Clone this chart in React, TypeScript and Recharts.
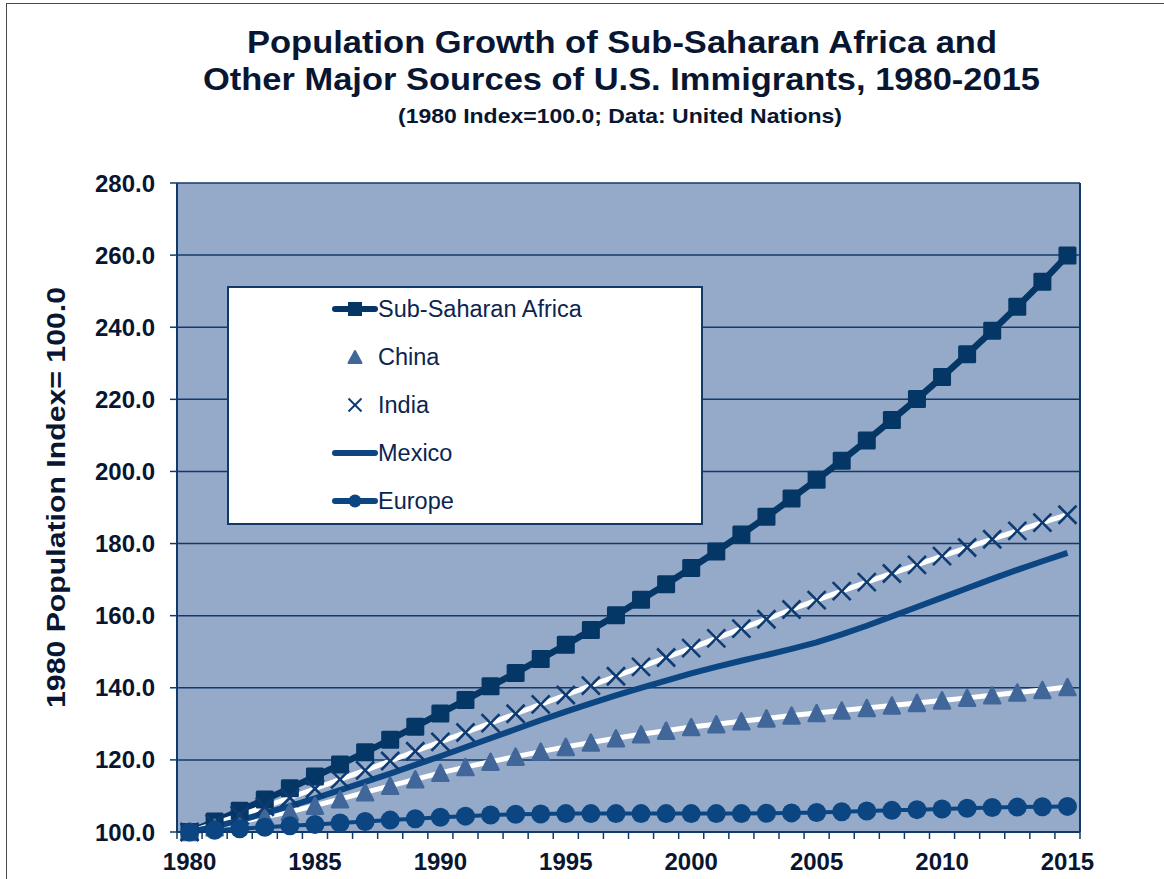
import React from 'react';
import { ComposedChart, Line, XAxis, YAxis, CartesianGrid, Legend } from 'recharts';

const years = [
  '1980', '1981', '1982', '1983', '1984', '1985', '1986', '1987', '1988', '1989',
  '1990', '1991', '1992', '1993', '1994', '1995', '1996', '1997', '1998', '1999',
  '2000', '2001', '2002', '2003', '2004', '2005', '2006', '2007', '2008', '2009',
  '2010', '2011', '2012', '2013', '2014', '2015',
];

const subSaharanAfrica = [
  100.0, 102.9, 105.9, 109.0, 112.1, 115.4, 118.7, 122.1, 125.6, 129.2,
  132.9, 136.6, 140.4, 144.1, 148.0, 151.9, 156.0, 160.1, 164.4, 168.7,
  173.2, 177.8, 182.5, 187.4, 192.5, 197.7, 203.0, 208.6, 214.3, 220.1,
  226.2, 232.5, 239.0, 245.7, 252.6, 259.9,
];

const china = [
  100.0, 101.3, 102.8, 104.2, 105.6, 107.3, 109.1, 111.0, 112.8, 114.6,
  116.4, 118.0, 119.5, 120.9, 122.3, 123.6, 124.8, 126.0, 127.1, 128.1,
  129.1, 129.9, 130.7, 131.5, 132.3, 133.0, 133.7, 134.4, 135.1, 135.8,
  136.5, 137.2, 137.9, 138.7, 139.4, 140.2,
];

const india = [
  100.0, 102.3, 104.6, 107.0, 109.5, 112.0, 114.6, 117.1, 119.7, 122.4,
  125.0, 127.6, 130.2, 132.8, 135.4, 138.0, 140.6, 143.2, 145.8, 148.4,
  151.0, 153.7, 156.4, 159.0, 161.7, 164.3, 166.8, 169.3, 171.7, 174.1,
  176.5, 178.9, 181.2, 183.5, 185.8, 188.0,
];

const mexico = [
  100.0, 101.5, 103.2, 105.2, 107.2, 109.3, 111.6, 113.9, 116.2, 118.6,
  121.0, 123.5, 126.0, 128.5, 131.0, 133.4, 135.7, 137.9, 140.0, 142.0,
  144.0, 145.8, 147.5, 149.1, 150.8, 152.6, 154.8, 157.2, 159.8, 162.4,
  165.0, 167.6, 170.2, 172.7, 175.1, 177.4,
];

const europe = [
  100.0, 100.5, 100.9, 101.3, 101.7, 102.1, 102.5, 102.9, 103.3, 103.7,
  104.1, 104.4, 104.7, 104.9, 105.0, 105.1, 105.1, 105.1, 105.1, 105.1,
  105.1, 105.1, 105.1, 105.2, 105.3, 105.4, 105.6, 105.8, 106.0, 106.2,
  106.4, 106.6, 106.8, 106.9, 107.0, 107.1,
];

const yTicks = [100, 120, 140, 160, 180, 200, 220, 240, 260, 280];
const seriesNames = ['Sub-Saharan Africa', 'China', 'India', 'Mexico', 'Europe'];

const titleLine1 = 'Population Growth of Sub-Saharan Africa and';
const titleLine2 = 'Other Major Sources of U.S. Immigrants, 1980-2015';
const subtitle = '(1980 Index=100.0; Data: United Nations)';
const yAxisTitle = '1980 Population Index= 100.0';

const data = years.map((year, i) => ({
  year,
  ssa: subSaharanAfrica[i],
  china: china[i],
  india: india[i],
  mexico: mexico[i],
  europe: europe[i],
}));

const FONT = 'Arial, "Liberation Sans", Helvetica, sans-serif';
const TEXT = '#081631';
const AXIS = '#123A69';
const PLOT_BG = '#95A9C9';
const SSA = '#053766';
const CHINA = '#41679A';
const INDIA_X = '#0D3B72';
const MEX = '#0B4682';
const EUR = '#0B4682';

const SquareDot = (props: any) => {
  const { cx, cy, index } = props;
  if (cx == null || cy == null) return <g key={`s-${index}`} />;
  const s = 18;
  return <rect key={`s-${index}`} x={cx - s / 2} y={cy - s / 2} width={s} height={s} fill={SSA} rx={1.5} />;
};

const TriangleDot = (props: any) => {
  const { cx, cy, index } = props;
  if (cx == null || cy == null) return <g key={`t-${index}`} />;
  const w = 16;
  const h = 16;
  const d = `M${cx},${cy - h / 2} L${cx + w / 2},${cy + h / 2} L${cx - w / 2},${cy + h / 2} Z`;
  return <path key={`t-${index}`} d={d} fill={CHINA} stroke={CHINA} strokeWidth={2.5} strokeLinejoin="round" />;
};

const CrossDot = (props: any) => {
  const { cx, cy, index } = props;
  if (cx == null || cy == null) return <g key={`x-${index}`} />;
  const r = 9;
  return (
    <g key={`x-${index}`}>
      <line x1={cx - r} y1={cy - r} x2={cx + r} y2={cy + r} stroke={INDIA_X} strokeWidth={2.6} />
      <line x1={cx - r} y1={cy + r} x2={cx + r} y2={cy - r} stroke={INDIA_X} strokeWidth={2.6} />
    </g>
  );
};

const CircleDot = (props: any) => {
  const { cx, cy, index } = props;
  if (cx == null || cy == null) return <g key={`c-${index}`} />;
  return <circle key={`c-${index}`} cx={cx} cy={cy} r={9.5} fill={EUR} />;
};

const XTick = (props: any) => {
  const { x, y, payload } = props;
  const off = payload && payload.offset ? payload.offset : 12.54;
  const value = String(payload.value);
  const isLast = value === years[years.length - 1];
  const showLabel = Number(value) % 5 === 0;
  return (
    <g>
      <line x1={x - off} x2={x - off} y1={y} y2={y + 7} stroke={AXIS} strokeWidth={1.5} />
      {isLast && <line x1={x + off} x2={x + off} y1={y} y2={y + 7} stroke={AXIS} strokeWidth={1.5} />}
      {showLabel && (
        <text x={x} y={y + 38} textAnchor="middle" fontFamily={FONT} fontWeight="bold" fontSize={24} fill={TEXT}>
          {value}
        </text>
      )}
    </g>
  );
};

const LegendIcon = ({ idx, cx, cy }: { idx: number; cx: number; cy: number }) => {
  if (idx === 0) {
    return (
      <g>
        <line x1={cx - 20} x2={cx + 20} y1={cy} y2={cy} stroke={SSA} strokeWidth={6} strokeLinecap="round" />
        <rect x={cx - 7} y={cy - 7} width={14} height={14} fill={SSA} />
      </g>
    );
  }
  if (idx === 1) {
    const d = `M${cx},${cy - 6} L${cx + 6.5},${cy + 6} L${cx - 6.5},${cy + 6} Z`;
    return <path d={d} fill={CHINA} stroke={CHINA} strokeWidth={2} strokeLinejoin="round" />;
  }
  if (idx === 2) {
    const r = 6.5;
    return (
      <g>
        <line x1={cx - r} y1={cy - r} x2={cx + r} y2={cy + r} stroke={INDIA_X} strokeWidth={2} />
        <line x1={cx - r} y1={cy + r} x2={cx + r} y2={cy - r} stroke={INDIA_X} strokeWidth={2} />
      </g>
    );
  }
  if (idx === 3) {
    return <line x1={cx - 20} x2={cx + 20} y1={cy} y2={cy} stroke={MEX} strokeWidth={6} strokeLinecap="round" />;
  }
  return (
    <g>
      <line x1={cx - 20} x2={cx + 20} y1={cy} y2={cy} stroke={EUR} strokeWidth={6} strokeLinecap="round" />
      <circle cx={cx} cy={cy} r={6.5} fill={EUR} />
    </g>
  );
};

const renderLegend = () => (
  <svg width={476} height={239} style={{ display: 'block' }}>
    <rect x={1} y={1} width={474} height={237} fill="#ffffff" stroke={AXIS} strokeWidth={2} />
    {seriesNames.map((name, i) => {
      const cy = 23 + i * 48;
      return (
        <g key={name}>
          <LegendIcon idx={i} cx={128} cy={cy} />
          <text x={151} y={cy} dominantBaseline="central" fontFamily={FONT} fontSize={23.5} fill="#0B2550">
            {name}
          </text>
        </g>
      );
    })}
  </svg>
);

export default function App() {
  return (
    <div style={{ position: 'absolute', left: 0, top: 0, width: 1164, height: 879, background: '#ffffff', overflow: 'hidden' }}>
      <div
        style={{
          position: 'absolute',
          left: 6,
          top: 3,
          width: 1164,
          height: 879,
          borderLeft: '1.5px solid #4a4a4a',
          borderTop: '1.5px solid #4a4a4a',
        }}
      />
      <div style={{ position: 'absolute', left: 0, top: 0 }}>
        <ComposedChart
          width={1164}
          height={879}
          data={data}
          margin={{ top: 183, right: 83, bottom: 0, left: 0 }}
        >
          <CartesianGrid
            vertical={false}
            horizontal={true}
            fill={PLOT_BG}
            fillOpacity={1}
            stroke={AXIS}
            strokeWidth={1.5}
          />
          <XAxis
            dataKey="year"
            type="category"
            scale="band"
            interval={0}
            height={47}
            tickSize={0}
            tickMargin={0}
            tickLine={false}
            axisLine={{ stroke: AXIS, strokeWidth: 2 }}
            tick={<XTick />}
          />
          <YAxis
            type="number"
            domain={[100, 280]}
            ticks={yTicks}
            interval={0}
            width={177}
            tickSize={7}
            tickMargin={15}
            tickFormatter={(v: number) => v.toFixed(1)}
            tickLine={{ stroke: AXIS, strokeWidth: 1.5 }}
            axisLine={{ stroke: AXIS, strokeWidth: 2 }}
            tick={{ fill: TEXT, fontSize: 24, fontWeight: 'bold', fontFamily: FONT }}
          />
          <YAxis
            yAxisId="right"
            orientation="right"
            type="number"
            domain={[100, 280]}
            width={1}
            tick={false}
            tickLine={false}
            axisLine={{ stroke: AXIS, strokeWidth: 2 }}
          />
          <Legend
            layout="vertical"
            align="center"
            verticalAlign="middle"
            content={renderLegend}
            wrapperStyle={{ left: 227, top: 286, width: 476, height: 239 }}
          />
          <Line
            dataKey="ssa"
            name={seriesNames[0]}
            stroke={SSA}
            strokeWidth={6.5}
            dot={SquareDot}
            activeDot={false}
            isAnimationActive={false}
          />
          <Line
            dataKey="china"
            name={seriesNames[1]}
            stroke="#ffffff"
            strokeWidth={5}
            dot={TriangleDot}
            activeDot={false}
            isAnimationActive={false}
          />
          <Line
            dataKey="india"
            name={seriesNames[2]}
            stroke="#ffffff"
            strokeWidth={5}
            dot={CrossDot}
            activeDot={false}
            isAnimationActive={false}
          />
          <Line
            dataKey="mexico"
            name={seriesNames[3]}
            stroke={MEX}
            strokeWidth={6}
            dot={false}
            activeDot={false}
            isAnimationActive={false}
          />
          <Line
            dataKey="europe"
            name={seriesNames[4]}
            stroke={EUR}
            strokeWidth={4}
            dot={CircleDot}
            activeDot={false}
            isAnimationActive={false}
          />
        </ComposedChart>
      </div>
      <svg
        width={1164}
        height={879}
        style={{ position: 'absolute', left: 0, top: 0, pointerEvents: 'none' }}
      >
        <text x={622} y={53} textAnchor="middle" fontFamily={FONT} fontWeight="bold" fontSize={31} fill={TEXT}
          textLength={750} lengthAdjust="spacingAndGlyphs">
          {titleLine1}
        </text>
        <text x={621.5} y={90} textAnchor="middle" fontFamily={FONT} fontWeight="bold" fontSize={31} fill={TEXT}
          textLength={837} lengthAdjust="spacingAndGlyphs">
          {titleLine2}
        </text>
        <text x={620} y={123} textAnchor="middle" fontFamily={FONT} fontWeight="bold" fontSize={21} fill={TEXT}
          textLength={444} lengthAdjust="spacingAndGlyphs">
          {subtitle}
        </text>
        <text
          transform="translate(65,497.5) rotate(-90)"
          textAnchor="middle"
          fontFamily={FONT}
          fontWeight="bold"
          fontSize={26}
          fill={TEXT}
          textLength={421}
          lengthAdjust="spacingAndGlyphs"
        >
          {yAxisTitle}
        </text>
      </svg>
    </div>
  );
}
